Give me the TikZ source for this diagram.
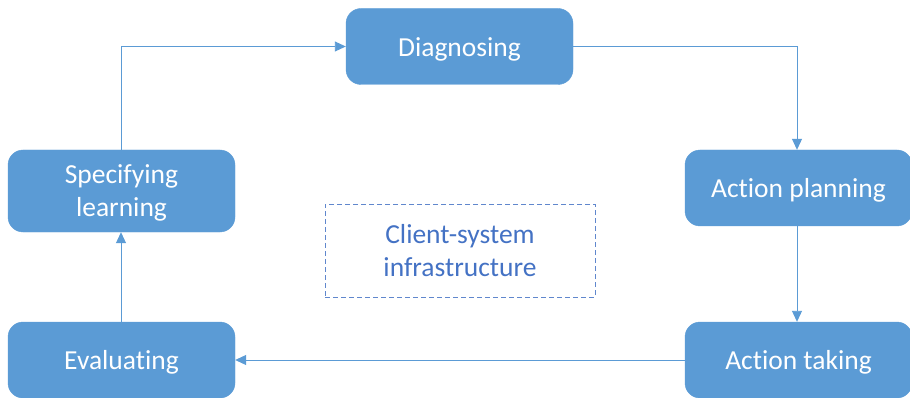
\documentclass[tikz,border=0pt]{standalone}
\usepackage{fontspec}
\setmainfont{Carlito}[Ligatures={NoCommon}]
\usetikzlibrary{arrows.meta}
\definecolor{boxblue}{HTML}{5B9BD5}
\definecolor{txtblue}{HTML}{4472C4}
\newcommand{\lowtext}[1]{\raisebox{-2.5pt}[\height][\depth]{#1}}
\begin{document}
\begin{tikzpicture}[x=1pt,y=-1pt,
  stepbox/.style={fill=boxblue,draw=boxblue,rounded corners=15pt,text=white,
    font=\fontsize{27.5}{33}\selectfont,align=center,inner sep=0pt},
  conn/.style={draw=boxblue,line width=0.9pt,-{Triangle[length=11pt,width=10pt]}}]
\useasboundingbox (0,0) rectangle (910,398);
\begin{scope}
\clip (0,0) rectangle (910,398);
\node[stepbox,minimum width=227pt,minimum height=76pt] (diag) at (459.5,46.5) {\lowtext{Diagnosing}};
\node[stepbox,minimum width=227pt,minimum height=76pt] (plan) at (798.5,188) {\lowtext{Action planning}};
\node[stepbox,minimum width=227pt,minimum height=76pt] (take) at (798.5,360) {\lowtext{Action taking}};
\node[stepbox,minimum width=227pt,minimum height=76pt] (eval) at (121.5,360) {\lowtext{Evaluating}};
\node[stepbox,minimum width=227pt,minimum height=82pt] (spec) at (121.5,191) {\lowtext{\begin{tabular}{@{}c@{}}Specifying\\learning\end{tabular}}};
\end{scope}
\node[draw=txtblue!85,dash pattern=on 5pt off 3pt,line width=0.8pt,text=txtblue,
  font=\fontsize{27.5}{33}\selectfont,align=center,minimum width=270pt,minimum height=93pt,inner sep=0pt]
  (infra) at (460,250.5) {\lowtext{\begin{tabular}{@{}c@{}}Client-system\\infrastructure\end{tabular}}};
\coordinate (c1) at (121,46.5);
\coordinate (c2) at (797,46.5);
\draw[conn] (spec.north -| c1) -- (c1) -- (diag.west);
\draw[conn] (diag.east) -- (c2) -- (plan.north -| c2);
\draw[conn] (plan.south -| c2) -- (take.north -| c2);
\draw[conn] (take.west) -- (eval.east);
\draw[conn] (eval.north -| c1) -- (spec.south -| c1);
\end{tikzpicture}
\end{document}
